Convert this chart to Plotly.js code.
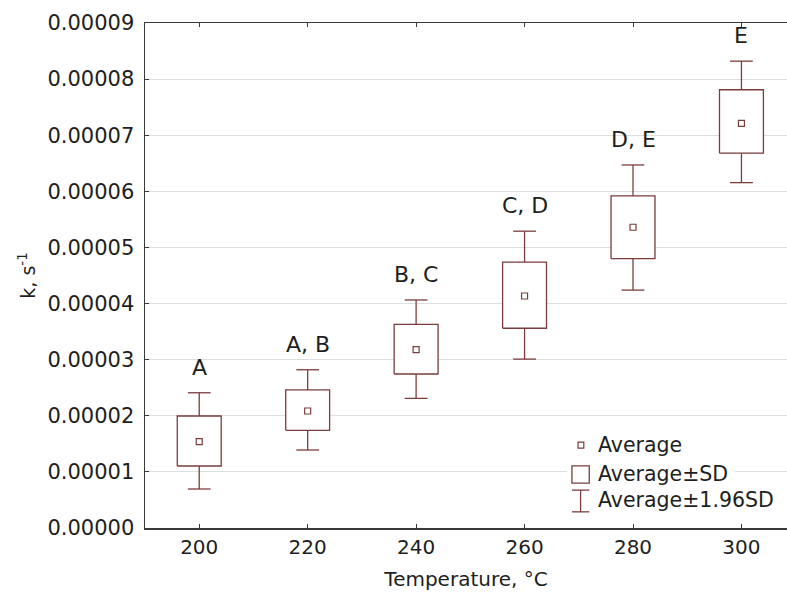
<!DOCTYPE html>
<html>
<head>
<meta charset="utf-8">
<script src="https://cdn.plot.ly/plotly-3.0.1.min.js"></script>
<style>
  html, body { margin: 0; padding: 0; background: #ffffff; overflow: hidden; }
  #chart { width: 787px; height: 598px; }
</style>
</head>
<body>
<div id="chart"></div>
<script>
// Rate constant k (s^-1) versus treatment temperature
const temps = [200, 220, 240, 260, 280, 300];
const meanK = [1.54e-5, 2.085e-5, 3.18e-5, 4.135e-5, 5.36e-5, 7.21e-5];
const sdLow = [1.105e-5, 1.74e-5, 2.745e-5, 3.56e-5, 4.80e-5, 6.68e-5];
const sdHigh = [1.996e-5, 2.46e-5, 3.63e-5, 4.74e-5, 5.92e-5, 7.81e-5];
const ciLow = [0.695e-5, 1.39e-5, 2.31e-5, 3.01e-5, 4.24e-5, 6.155e-5];
const ciHigh = [2.41e-5, 2.82e-5, 4.064e-5, 5.29e-5, 6.47e-5, 8.32e-5];
const groups = ['A', 'A, B', 'B, C', 'C, D', 'D, E', 'E'];
const yTicks = [0, 1e-5, 2e-5, 3e-5, 4e-5, 5e-5, 6e-5, 7e-5, 8e-5, 9e-5];
const legendLabels = ['Average', 'Average\u00b1SD', 'Average\u00b11.96SD'];

const markColor = '#7a3d3d';
const axisColor = '#3a3a3a';
const textColor = '#1e1e1e';
const fontFamily = 'DejaVu Sans, Liberation Sans, Arial, sans-serif';

// Half widths (in °C) of the SD box and of the whisker caps
const boxHalf = 4.05;
const capHalf = 2.1;

// One closed, white-filled outline per temperature: mean ± SD
const boxTraces = temps.map((t, i) => ({
  type: 'scatter',
  mode: 'lines',
  x: [t - boxHalf, t + boxHalf, t + boxHalf, t - boxHalf, t - boxHalf],
  y: [sdLow[i], sdLow[i], sdHigh[i], sdHigh[i], sdLow[i]],
  fill: 'toself',
  fillcolor: '#ffffff',
  line: { color: markColor, width: 1.3 },
  hoverinfo: 'skip',
  showlegend: false
}));

// Whiskers: mean ± 1.96 SD, running from the box edges out to capped ends
const wx = [];
const wy = [];
temps.forEach((t, i) => {
  wx.push(t, t, null, t - capHalf, t + capHalf, null);
  wy.push(sdHigh[i], ciHigh[i], null, ciHigh[i], ciHigh[i], null);
  wx.push(t, t, null, t - capHalf, t + capHalf, null);
  wy.push(sdLow[i], ciLow[i], null, ciLow[i], ciLow[i], null);
});
const whiskerTrace = {
  type: 'scatter',
  mode: 'lines',
  x: wx,
  y: wy,
  connectgaps: false,
  line: { color: markColor, width: 1.3 },
  hoverinfo: 'skip',
  showlegend: false
};

const meanTrace = {
  type: 'scatter',
  mode: 'markers',
  x: temps,
  y: meanK,
  marker: { symbol: 'square-open', size: 6, color: markColor, line: { width: 1.2, color: markColor } },
  hoverinfo: 'skip',
  showlegend: false
};

// Homogeneous-group letters above each upper whisker
const annotations = groups.map((g, i) => ({
  x: temps[i], y: ciHigh[i], xref: 'x', yref: 'y',
  text: g, showarrow: false, yanchor: 'bottom', yshift: 11,
  font: { family: fontFamily, size: 22, color: textColor }
}));

// Hand-built key in the lower right corner
const keyX = 0.703;
const keyRows = [0.164, 0.107, 0.055];
legendLabels.forEach((lab, i) => {
  annotations.push({
    x: keyX, y: keyRows[i], xref: 'paper', yref: 'paper',
    xanchor: 'left', yanchor: 'middle', showarrow: false, text: lab,
    font: { family: fontFamily, size: 20.5, color: textColor }
  });
});

const shapes = [
  // white backing behind the key
  { type: 'rect', xref: 'paper', yref: 'paper', x0: 0.657, x1: 0.919, y0: 0.022, y1: 0.19,
    fillcolor: '#ffffff', line: { width: 0 }, layer: 'above' },
  // "Average" marker
  { type: 'rect', xref: 'paper', yref: 'paper', x0: 0.6745, x1: 0.6835, y0: 0.158, y1: 0.170,
    line: { color: markColor, width: 1.2 }, fillcolor: 'rgba(0,0,0,0)', layer: 'above' },
  // "Average±SD" box
  { type: 'rect', xref: 'paper', yref: 'paper', x0: 0.665, x1: 0.692, y0: 0.089, y1: 0.123,
    line: { color: markColor, width: 1.3 }, fillcolor: 'rgba(0,0,0,0)', layer: 'above' },
  // "Average±1.96SD" whisker
  { type: 'line', xref: 'paper', yref: 'paper', x0: 0.6785, x1: 0.6785, y0: 0.032, y1: 0.075,
    line: { color: markColor, width: 1.3 }, layer: 'above' },
  { type: 'line', xref: 'paper', yref: 'paper', x0: 0.665, x1: 0.692, y0: 0.075, y1: 0.075,
    line: { color: markColor, width: 1.3 }, layer: 'above' },
  { type: 'line', xref: 'paper', yref: 'paper', x0: 0.665, x1: 0.692, y0: 0.032, y1: 0.032,
    line: { color: markColor, width: 1.3 }, layer: 'above' }
];

const layout = {
  width: 787,
  height: 598,
  margin: { l: 145, r: 0, t: 23, b: 70 },
  paper_bgcolor: '#ffffff',
  plot_bgcolor: '#ffffff',
  font: { family: fontFamily, size: 20, color: textColor },
  xaxis: {
    range: [190, 308.4],
    tickvals: temps,
    ticktext: temps.map(String),
    ticks: 'inside', ticklen: 4, tickcolor: axisColor,
    showline: true, linecolor: axisColor, linewidth: 1.5, mirror: 'ticks',
    showgrid: false, zeroline: false,
    tickfont: { family: fontFamily, size: 20, color: textColor },
    title: { text: 'Temperature, \u00b0C', font: { family: fontFamily, size: 20, color: textColor }, standoff: 14 }
  },
  yaxis: {
    range: [0, 9e-5],
    tickvals: yTicks,
    tickformat: '.5f',
    ticks: 'inside', ticklen: 4, tickcolor: axisColor,
    showline: true, linecolor: axisColor, linewidth: 1.5,
    showgrid: true, gridcolor: '#dedede', gridwidth: 1,
    zeroline: false,
    ticklabelstandoff: 5,
    tickfont: { family: fontFamily, size: 21, color: textColor },
    title: { text: 'k, s<sup>-1</sup>', font: { family: fontFamily, size: 19, color: textColor }, standoff: 7 }
  },
  annotations: annotations,
  shapes: shapes,
  showlegend: false
};

Plotly.newPlot('chart', boxTraces.concat([whiskerTrace, meanTrace]), layout, { displayModeBar: false, staticPlot: true });
</script>
</body>
</html>
